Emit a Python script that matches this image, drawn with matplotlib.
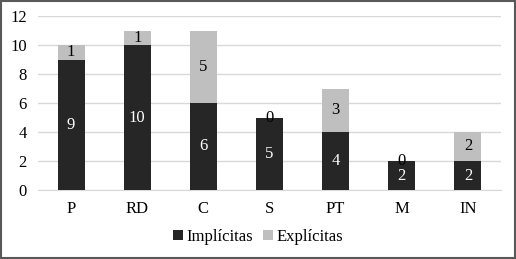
import matplotlib
matplotlib.use("Agg")
import matplotlib.pyplot as plt
import numpy as np

categories = ["P", "RD", "C", "S", "PT", "M", "IN"]
implicitas = [9, 10, 6, 5, 4, 2, 2]
explicitas = [1, 1, 5, 0, 3, 0, 2]
yticks = [0, 2, 4, 6, 8, 10, 12]

plt.rcParams['font.family'] = ['Liberation Serif', 'DejaVu Serif']

fig = plt.figure(figsize=(5.16, 2.59), dpi=100)
ax = fig.add_axes([38/516, 1 - 190/259, (501-38)/516, (190-16)/259])

x = np.arange(len(categories))
dark = "#262626"
light = "#bfbfbf"
w = 0.41
b1 = ax.bar(x, implicitas, width=w, color=dark, label="Implícitas", zorder=3)
b2 = ax.bar(x, explicitas, width=w, bottom=implicitas, color=light, label="Explícitas", zorder=3)

for xi, a, b in zip(x, implicitas, explicitas):
    ax.text(xi, a / 2, str(a), ha="center", va="center", color="white", fontsize=12, zorder=4)
    ax.text(xi, a + b / 2, str(b), ha="center", va="center", color="black", fontsize=12, zorder=4)

ax.set_xlim(-0.5, len(categories) - 0.5)
ax.set_ylim(0, 12)
ax.set_yticks(yticks)
ax.set_xticks(x)
ax.set_xticklabels(categories)
ax.tick_params(axis="both", length=0, labelsize=12, colors="black")
ax.tick_params(axis="x", pad=8)
ax.tick_params(axis="y", pad=8)
ax.grid(axis="y", color="#d9d9d9", linewidth=1, zorder=0)
for s in ["top", "right", "left"]:
    ax.spines[s].set_visible(False)
ax.spines["bottom"].set_color("#d9d9d9")
ax.spines["bottom"].set_zorder(1)

fig.legend(handles=[b1, b2], loc="center", bbox_to_anchor=(0.5, 1 - 237/259), ncol=2,
           frameon=False, fontsize=12, handlelength=0.6, handleheight=0.6,
           handletextpad=0.2, columnspacing=0.6)

rect = plt.Rectangle((0.002, 0.004), 0.996, 0.992, transform=fig.transFigure,
                     fill=False, edgecolor="#595959", linewidth=1.5)
fig.patches.append(rect)

fig.savefig("out.png", dpi=100)
